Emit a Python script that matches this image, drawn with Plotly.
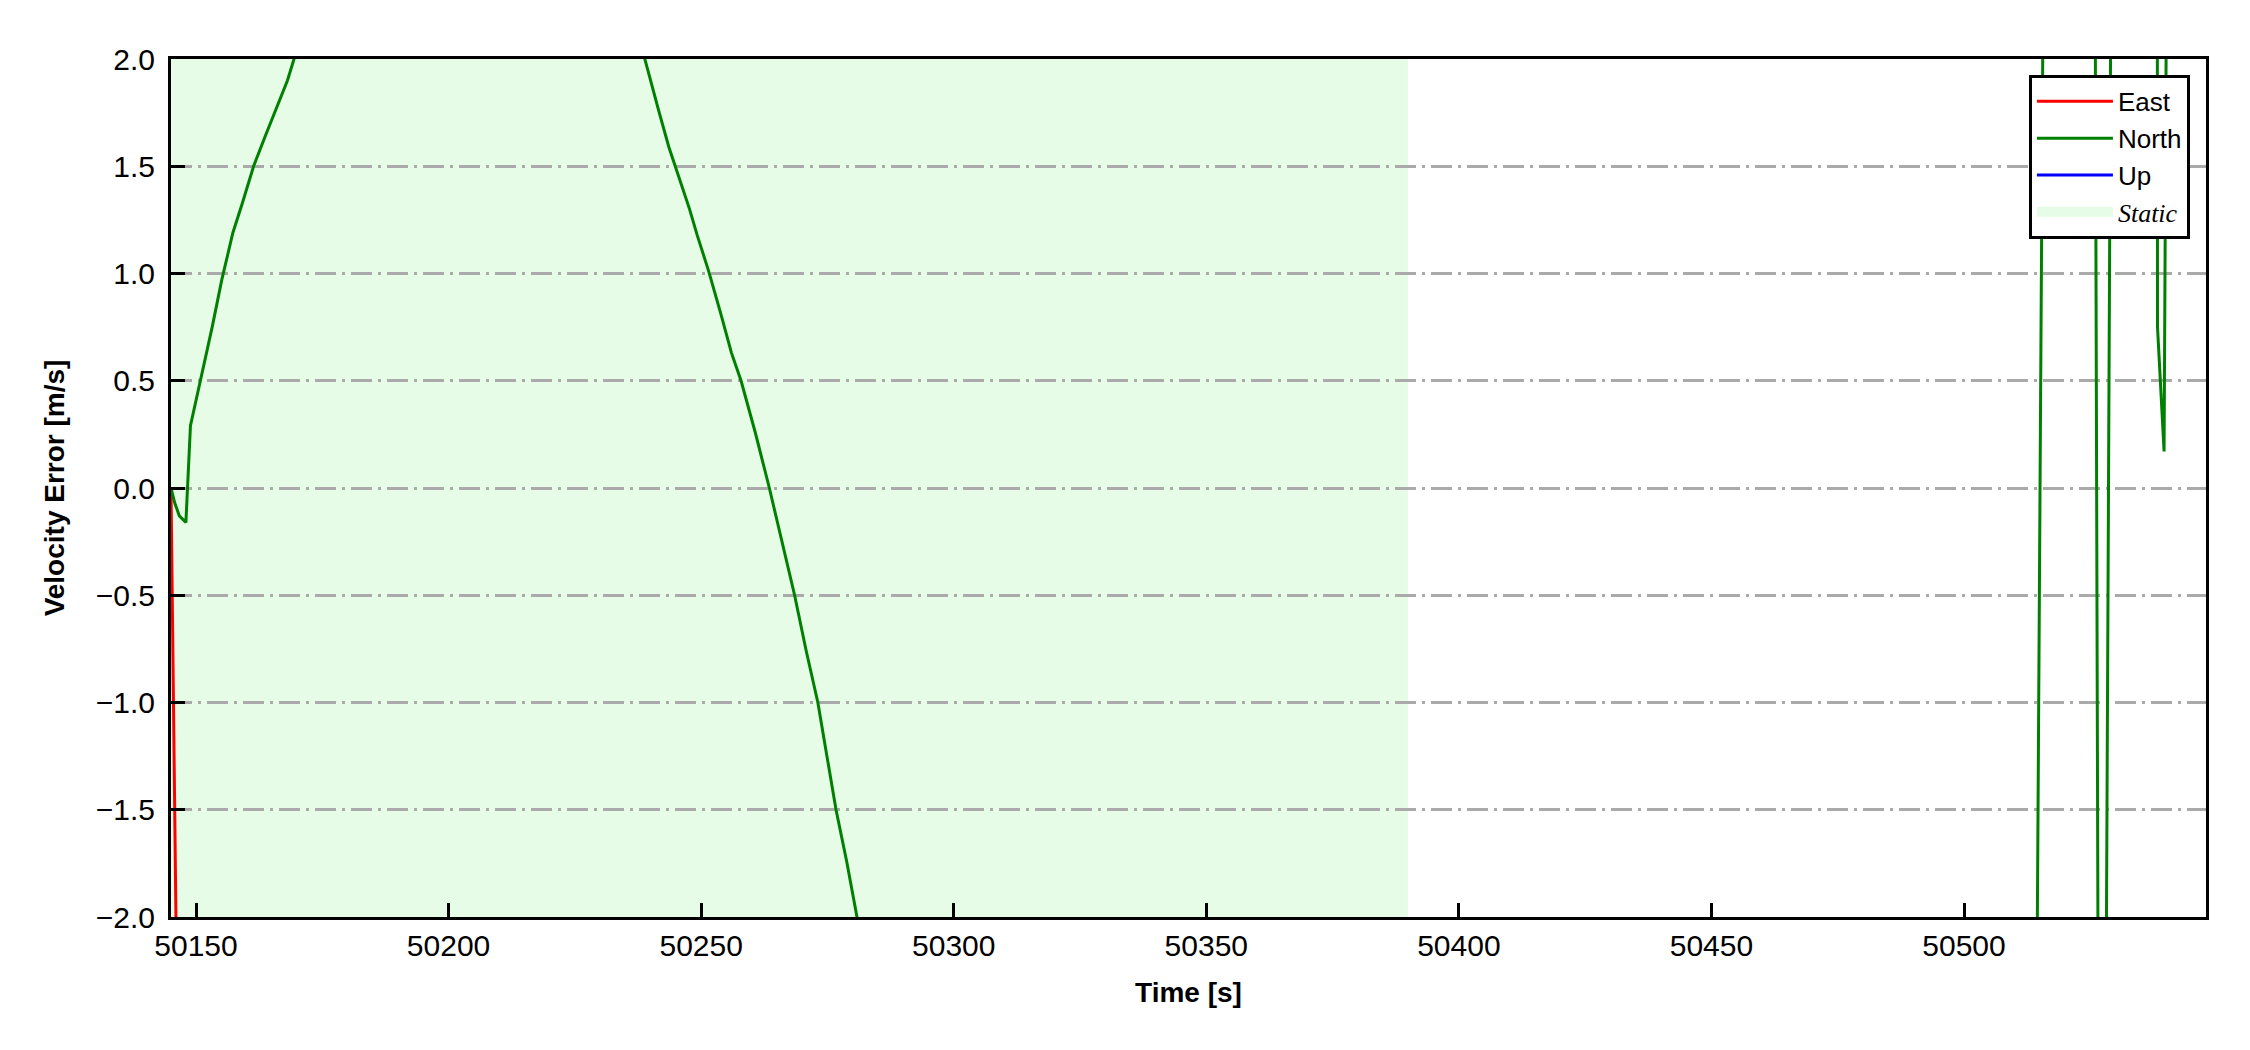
import plotly.graph_objects as go

# time axis [s] and velocity errors [m/s]
time_east = [50145.05, 50146.2, 50148.0, 50160.0, 50200.0, 50260.0, 50330.0,
             50390.0, 50450.0, 50510.0, 50547.9]
east = [0.0, -2.35, -3.9, -6.2, -9.8, -12.5, -14.1, -15.0, -18.7, -22.4, -24.0]

time_north = [50145.05, 50145.8, 50146.7, 50148.0, 50148.9, 50150.9, 50153.2,
              50155.1, 50157.3, 50159.2, 50161.4, 50163.7, 50166.1, 50168.1,
              50169.8, 50175.0, 50185.0, 50195.0, 50205.0, 50215.0, 50225.0,
              50232.0, 50236.0, 50238.8, 50241.7, 50243.6, 50245.5, 50247.7,
              50249.2, 50251.5, 50253.8, 50256.0, 50257.9, 50260.7, 50263.5,
              50266.0, 50268.5, 50270.8, 50273.1, 50274.9, 50276.7, 50278.8,
              50280.9, 50284.0, 50300.0, 50330.0, 50360.0, 50390.0, 50420.0,
              50450.0, 50480.0, 50500.0, 50510.0, 50514.2, 50516.0, 50520.0,
              50524.0, 50525.8, 50526.7, 50527.3, 50528.0, 50529.2, 50532.0,
              50536.0, 50538.1, 50538.3, 50539.6, 50541.0, 50544.0, 50547.9]
north = [0.0, -0.07, -0.13, -0.16, 0.29, 0.50, 0.75,
         0.97, 1.19, 1.33, 1.50, 1.64, 1.78, 1.90,
         2.03, 2.35, 2.85, 3.15, 3.25, 3.15, 2.85,
         2.5, 2.25, 2.0, 1.75, 1.59, 1.46, 1.30,
         1.18, 1.01, 0.82, 0.63, 0.50, 0.26, 0.0,
         -0.25, -0.50, -0.76, -1.0, -1.25, -1.5, -1.74,
         -2.0, -2.4, -4.2, -7.5, -10.8, -13.6, -15.9,
         -17.2, -14.8, -11.3, -7.6, -3.2, 3.6, 6.9,
         5.2, 3.6, -3.6, -4.8, -3.0, 3.0, 5.6,
         7.8, 9.0, 0.75, 0.17, 6.6, 8.9, 10.2]

time_up = [50145.05, 50150.0, 50200.0, 50260.0, 50330.0, 50400.0, 50480.0, 50547.9]
up = [-2.8, -4.6, -7.3, -9.0, -11.2, -12.6, -13.5, -14.9]

static_start = 50145.05
static_end = 50389.9

x_range = [50145.05, 50547.9]
y_range = [-2.0, 2.0]
x_ticks = [50150, 50200, 50250, 50300, 50350, 50400, 50450, 50500]
y_ticks = [-2.0, -1.5, -1.0, -0.5, 0.0, 0.5, 1.0, 1.5, 2.0]

FONT = "Liberation Sans, Arial, sans-serif"
STATIC_COLOR = "#e6fce6"

fig = go.Figure()

fig.add_trace(go.Scatter(x=time_east, y=east, mode="lines", name="East",
                         line=dict(color="red", width=3)))
fig.add_trace(go.Scatter(x=time_north, y=north, mode="lines", name="North",
                         line=dict(color="green", width=3)))
fig.add_trace(go.Scatter(x=time_up, y=up, mode="lines", name="Up",
                         line=dict(color="blue", width=3)))
# legend entry for the static period
fig.add_trace(go.Scatter(
    x=[None], y=[None], mode="lines",
    name='<span style="font-family:Liberation Serif;font-style:italic">Static</span>',
    line=dict(color=STATIC_COLOR, width=17),
))

# static period shading
fig.add_vrect(
    x0=static_start, x1=static_end,
    fillcolor=STATIC_COLOR, opacity=1, line_width=0, layer="below",
)

# page body has an 8px margin, so shift the margins by that
fig.update_layout(
    width=2250,
    height=1050,
    margin=dict(l=163, r=52, t=51, b=141),
    paper_bgcolor="white",
    plot_bgcolor="white",
    font=dict(family=FONT, size=30, color="black"),
    showlegend=True,
    legend=dict(
        x=0.9921, y=0.9814, xanchor="right", yanchor="top",
        bgcolor="white", bordercolor="black", borderwidth=3,
        font=dict(family=FONT, size=26, color="black"),
        tracegroupgap=0, itemwidth=76,
    ),
    xaxis=dict(
        range=x_range,
        tickmode="array", tickvals=x_ticks, ticktext=[str(t) for t in x_ticks],
        ticks="inside", ticklen=14, tickwidth=2.5, tickcolor="black",
        showline=True, linewidth=3, linecolor="black", mirror=True,
        showgrid=False, zeroline=False,
        tickfont=dict(size=30),
        title=dict(text="<b>Time [s]</b>", font=dict(size=28), standoff=22),
    ),
    yaxis=dict(
        range=y_range,
        tickmode="array", tickvals=y_ticks,
        ticktext=[f"{v:.1f}".replace("-", "\u2212") for v in y_ticks],
        ticks="inside", ticklen=14, tickwidth=2.5, tickcolor="black",
        ticklabelstandoff=7,
        showline=True, linewidth=3, linecolor="black", mirror=True,
        showgrid=True, gridcolor="#aaaaaa", gridwidth=2.5,
        griddash="21px,6px,3px,6px",
        zeroline=False,
        tickfont=dict(size=30),
        title=dict(text="<b>Velocity Error [m/s]</b>", font=dict(size=28), standoff=23),
    ),
)

fig.write_html("out.html")
